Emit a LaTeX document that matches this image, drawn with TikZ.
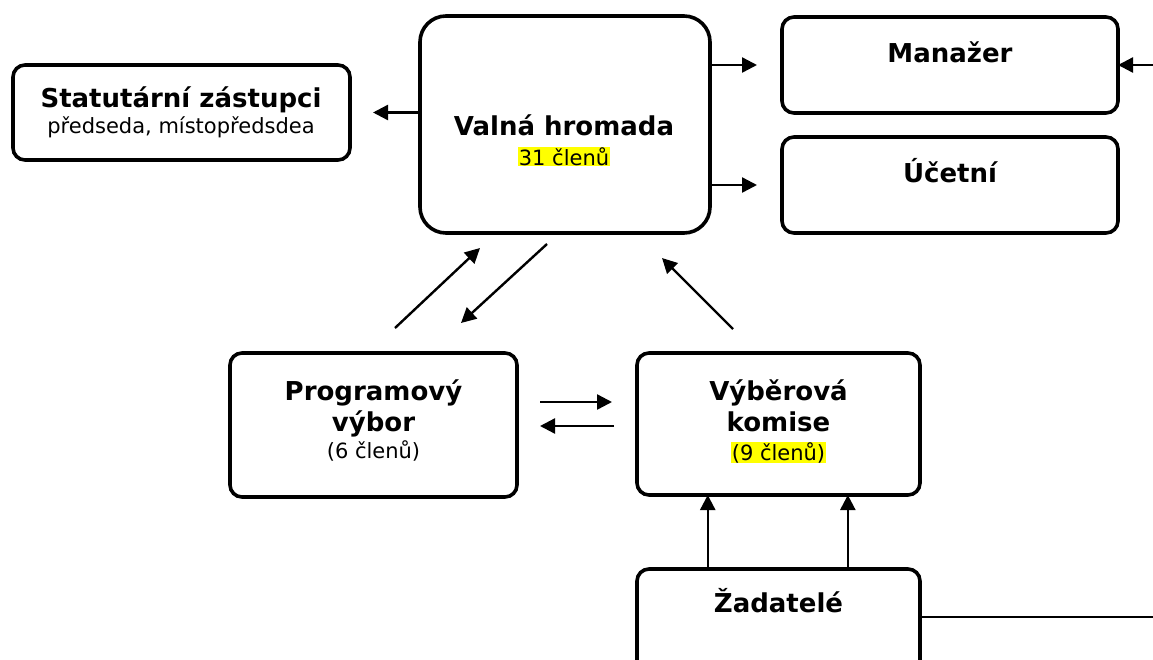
\documentclass[tikz,border=0pt]{standalone}
\usepackage{fontspec}
\setmainfont{DejaVu Sans}
\usetikzlibrary{arrows.meta,calc}
\definecolor{hl}{RGB}{255,255,0}
\newcommand{\hlt}[1]{{\setlength{\fboxsep}{0.5pt}\colorbox{hl}{#1}}}
\tikzset{
  box/.style={draw=black, line width=3.6pt, rounded corners=#1, inner sep=0pt, outer sep=0pt, fill=white},
  box/.default=12pt,
  ttl/.style={font=\fontsize{26}{30}\selectfont\bfseries, anchor=base, inner sep=0pt},
  sub/.style={font=\fontsize{21}{24}\selectfont, anchor=base, inner sep=0pt},
  arr/.style={line width=2.4pt, -{Triangle[length=15pt,width=15pt]}},
  ln/.style={line width=2.4pt}
}
\begin{document}
\begin{tikzpicture}[x=1pt,y=-1pt]
\useasboundingbox (0,0) rectangle (1153,659);
\clip (0,0) rectangle (1153,659);
% boxes
\node[box, minimum width=337pt, minimum height=95pt] (stat) at (181.5,112.5) {};
\node[box=26pt, minimum width=290pt, minimum height=217pt] (vh) at (565,124.5) {};
\node[box, minimum width=336pt, minimum height=96pt] (man) at (950,65) {};
\node[box, minimum width=336pt, minimum height=96pt] (uc) at (950,185) {};
\node[box, minimum width=287pt, minimum height=144pt] (prog) at (373.5,425) {};
\node[box, minimum width=283pt, minimum height=142pt] (vk) at (778.5,424) {};
\node[box, minimum width=283pt, minimum height=140pt] (zad) at (778.5,639) {};
% texts
\node[ttl] (statT) at (181,107) {Statutární zástupci};
\node[sub] (statS) at (181,133) {předseda, místopředsdea};
\node[ttl] (vhT) at (564,135) {Valná hromada};
\node[sub] (vhS) at (564,165) {\hlt{31 členů}};
\node[ttl] (manT) at (950,62) {Manažer};
\node[ttl] (ucT) at (950,182) {Účetní};
\node[ttl] (progT1) at (373.5,400) {Programový};
\node[ttl] (progT2) at (373.5,431) {výbor};
\node[sub] (progS) at (373.5,458) {(6 členů)};
\node[ttl] (vkT1) at (778.5,400) {Výběrová};
\node[ttl] (vkT2) at (778.5,431) {komise};
\node[sub] (vkS) at (778.5,460) {\hlt{(9 členů)}};
\node[ttl] (zadT) at (778.5,612) {Žadatelé};
% connectors
\draw[arr, shorten >=25pt] (vh.east |- man.west) -- (man.west);
\draw[arr, shorten >=25pt] (vh.east |- uc.west) -- (uc.west);
\draw[arr, shorten >=23pt] (vh.west |- stat.east) -- (stat.east);
\coordinate (rm) at (1153,65);
\draw[arr] (rm) -- (man.east);
\coordinate (p1a) at (540,402); \coordinate (p1b) at (612,402);
\coordinate (p2a) at (614,426); \coordinate (p2b) at (540,426);
\draw[arr] (p1a) -- (p1b);
\draw[arr] (p2a) -- (p2b);
\coordinate (d1a) at (395,328); \coordinate (d1b) at (480,248);
\coordinate (d2a) at (547,244); \coordinate (d2b) at (461,323);
\coordinate (d3a) at (733,329); \coordinate (d3b) at (662,258);
\draw[arr] (d1a) -- (d1b);
\draw[arr] (d2a) -- (d2b);
\draw[arr] (d3a) -- (d3b);
\coordinate (z1) at ($(zad.north west)!0.25!(zad.north east)$);
\coordinate (z2) at ($(zad.north west)!0.745!(zad.north east)$);
\draw[arr] (z1) -- (z1 |- vk.south);
\draw[arr] (z2) -- (z2 |- vk.south);
\coordinate (zr) at (1153,617);
\draw[ln] (zad.east |- zr) -- (zr);
\end{tikzpicture}
\end{document}
